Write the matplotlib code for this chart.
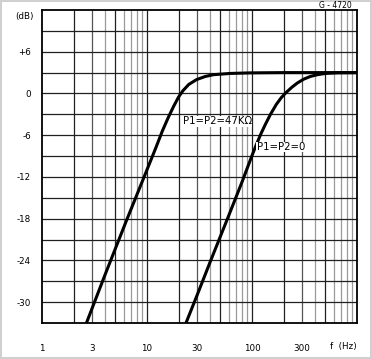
import numpy as np
import matplotlib
matplotlib.use('Agg')
import matplotlib.pyplot as plt

plt.rcParams.update({
    'font.family': 'DejaVu Sans',
    'font.size': 6,
})

# response: frequency (Hz) and gain (dB)
f_47k = [2.65, 4.0, 6.4, 9.5, 12.0, 14.0, 16.0, 18.0, 20.0, 22.0,
         25.0, 29.7, 36.0, 43.0, 62.0, 95.0, 200.0, 1000.0]
db_47k = [-33.0, -26.0, -18.2, -11.8, -8.0, -5.4, -3.4, -1.8, -0.5, 0.4,
          1.3, 2.0, 2.45, 2.7, 2.88, 2.96, 3.0, 3.0]

f_0 = [23.8, 30.0, 40.0, 59.5, 80.0, 99.0, 110.0, 122.0, 135.0, 150.0,
       170.0, 190.0, 210.0, 240.0, 270.0, 310.0, 360.0, 420.0, 500.0,
       650.0, 1000.0]
db_0 = [-32.8, -29.0, -24.2, -17.7, -12.8, -9.1, -7.35, -5.75, -4.35, -3.0,
        -1.6, -0.6, 0.1, 0.9, 1.5, 2.05, 2.45, 2.7, 2.88,
        2.97, 3.0]

y_ticks = [6, 0, -6, -12, -18, -24, -30]
y_labels = ['+6', '0', '-6', '-12', '-18', '-24', '-30']
x_ticks = [1, 3, 10, 30, 100, 300]
x_labels = ['1', '3', '10', '30', '100', '300']

fig = plt.figure(figsize=(3.72, 3.59), dpi=100)
fig.patch.set_edgecolor('#d0d0d0')
fig.patch.set_linewidth(1.5)
ax = fig.add_axes([42 / 372, 1 - 323 / 359, 315 / 372, 313 / 359])

ax.set_xscale('log')
ax.set_xlim(1, 1000)
ax.set_ylim(-33, 12)

# log grid
for dec in [1, 10, 100]:
    for k in range(1, 10):
        v = k * dec
        if v == 1:
            continue
        if k in (1, 2, 5):
            ax.axvline(v, color='#202020', lw=0.9, zorder=1)
        elif k == 3:
            ax.axvline(v, color='#555555', lw=0.9, zorder=1)
        else:
            ax.axvline(v, color='#9a9a9a', lw=0.9, zorder=1)
for h in range(-30, 12, 3):
    ax.axhline(h, color='#202020', lw=0.9, zorder=1)

ax.plot(f_47k, db_47k, color='black', lw=2.2, solid_joinstyle='round', zorder=3)
ax.plot(f_0, db_0, color='black', lw=2.2, solid_joinstyle='round', zorder=3)

ax.text(22, -4.0, 'P1=P2=47KΩ', fontsize=7.3, ha='left', va='center', zorder=4,
        bbox=dict(facecolor='white', edgecolor='none', pad=0.3))
ax.text(111, -7.7, 'P1=P2=0', fontsize=7.3, ha='left', va='center', zorder=4,
        bbox=dict(facecolor='white', edgecolor='none', pad=0.3))

ax.set_yticks(y_ticks)
ax.set_yticklabels(y_labels)
ax.set_xticks(x_ticks)
ax.set_xticklabels(x_labels)
ax.minorticks_off()
ax.tick_params(axis='both', length=0, labelsize=6.3)
ax.tick_params(axis='y', pad=8)
ax.tick_params(axis='x', pad=15)
for sp in ax.spines.values():
    sp.set_linewidth(1.3)
    sp.set_zorder(5)

ax.text(1.0, -0.075, 'f  (Hz)', transform=ax.transAxes, ha='right', va='center',
        fontsize=6.3)
fig.text(15 / 372, 1 - 16 / 359, '(dB)', ha='left', va='center', fontsize=6.3)
fig.text(335 / 372, 1 - 6 / 359, 'G - 4720', ha='center', va='center', fontsize=5.5)

fig.savefig('out.png', dpi=100)
